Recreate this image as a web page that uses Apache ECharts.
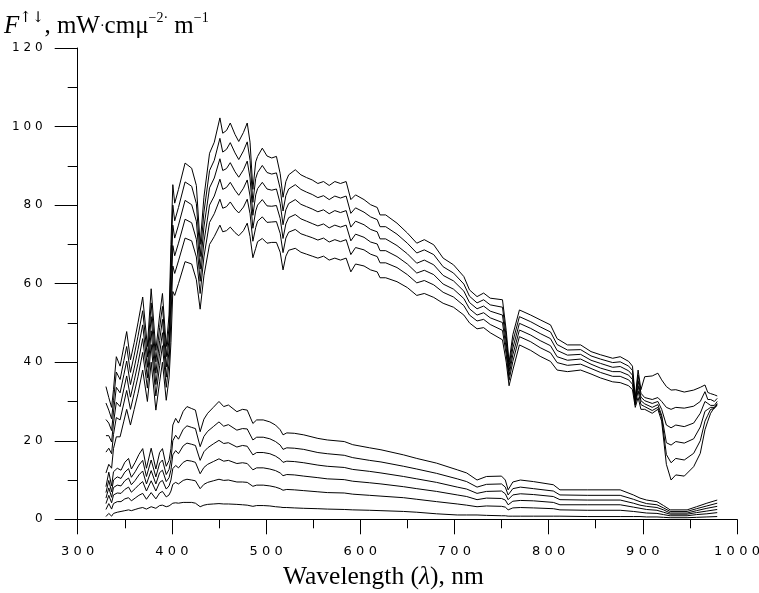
<!DOCTYPE html>
<html>
<head>
<meta charset="utf-8">
<script src="https://cdn.jsdelivr.net/npm/echarts@6.0.0/dist/echarts.min.js"></script>
<style>
html,body{margin:0;padding:0;background:#fff;}
#chart{width:759px;height:593px;}
</style>
</head>
<body>
<div id="chart"></div>
<script>
// Wavelength grid (nm) for the six upper curves
const wavelengthUpper = [330,333,336,338,341,345,349,352,356,360,364,369,374,378,383,387,390,394,397,399,401,403,407,414,421,426,430,434,440,445,451,454,458,462,467,471,476,480,483,486,489,491,496,501,506,511,515,518,521,524,531,537,543,549,555,561,567,573,579,585,590,595,604,611,618,621,627,639,650,660,668,678,688,699,710,716,724,731,738,751,755,758,762,769,781,791,802,809,820,834,845,855,868,876,885,889,892,895,898,902,910,916,920,925,930,935,944,954,961,966,969,972,976,979];

const fluxU1 = [33.8,31,28.5,33,41.4,39,44,47.8,40.6,45,50,56.6,44,58.7,43,52,57.5,44,52,70,85.2,80.5,84,90.7,89.4,85,70,82,93.2,96,102.2,98.3,99,100.9,98,96.2,98.5,100.9,96,84,91,92.4,94.5,92.5,92,92.4,88,82,86,87.7,89,87.7,87,86.4,85.5,86,85,86,85.5,86,81.4,82.6,81.4,80.1,79.4,77.5,77.5,75.4,72.9,70.3,71.2,69.9,66.5,64.8,61.8,58.4,56.7,57.6,56.3,55.9,48,40,47,53.3,52,50.8,49.5,46,44.4,44.4,42.7,41.9,41,41.4,40.2,39,31,38,33,36.3,36.5,37.2,35.5,33.8,32.9,33,32.4,32.9,33.6,34.2,32.3,32,31.7,31.4];
const fluxU2 = [29.6,27.8,25.6,30.2,37.5,35.6,40.4,44.0,37.4,41.8,46.6,53.1,41.3,55.1,40.1,48.8,54.2,41.4,49.0,65.3,80.0,76.0,79.4,85.9,84.8,80.4,66.9,78.2,88.8,91.4,97.0,93.5,94.2,95.9,93.3,91.6,93.8,96.1,91.4,80.7,86.8,88.3,90.1,88.3,87.9,88.2,84.2,78.5,82.4,84.1,85.2,84.0,83.3,82.7,81.9,82.4,81.4,82.3,81.8,82.3,77.9,79.3,78.2,77.0,76.3,74.5,74.5,72.6,70.3,67.8,68.6,67.4,64.3,62.7,59.9,56.8,55.1,55.9,54.6,54.0,46.5,38.9,45.3,51.6,50.3,49.0,47.7,44.5,43.1,43.2,41.6,40.8,39.9,40.1,39.0,37.9,30.5,36.7,32.1,31.0,30.5,31.0,30.0,28.5,28.0,28.5,28.3,28.8,30.0,32.5,30.5,30.5,30.0,30.8];
const fluxU3 = [25.4,24.5,22.6,27.3,33.6,32.2,36.8,40.3,34.3,38.5,43.2,49.5,38.7,51.6,37.2,45.5,50.9,38.8,45.9,60.5,74.9,71.6,74.9,81.2,80.1,75.9,63.7,74.4,84.4,86.9,91.8,88.8,89.3,90.8,88.5,87.1,89.0,91.2,86.9,77.4,82.6,84.2,85.8,84.1,83.8,84.1,80.4,75.0,78.8,80.4,81.4,80.2,79.6,79.0,78.3,78.8,77.8,78.6,78.1,78.6,74.4,75.9,75.0,73.8,73.2,71.4,71.4,69.7,67.6,65.2,66.0,64.8,62.1,60.7,58.1,55.2,53.6,54.3,53.0,52.0,45.0,37.7,43.6,49.9,48.6,47.3,46.0,43.0,41.8,42.0,40.5,39.7,38.7,38.9,37.8,36.7,30.1,35.3,31.1,30.2,29.5,30.0,28.0,24.0,23.3,24.0,23.6,24.5,27.0,30.0,29.5,29.0,29.0,30.0];
const fluxU4 = [21.3,21.3,19.7,24.5,29.8,28.7,33.2,36.5,31.1,35.3,39.7,46.0,36.0,48.0,34.3,42.3,47.5,36.2,42.9,55.8,69.7,67.1,70.3,76.4,75.5,71.3,60.6,70.6,80.0,82.3,86.6,84.0,84.5,85.8,83.8,82.5,84.3,86.4,82.3,74.1,78.5,80.0,81.4,79.8,79.7,79.9,76.6,71.5,75.2,76.8,77.6,76.5,75.9,75.3,74.7,75.2,74.2,74.9,74.4,74.9,70.9,72.6,71.8,70.6,70.1,68.4,68.4,66.9,65.0,62.7,63.4,62.3,59.9,58.6,56.2,53.6,52.0,52.6,51.3,50.1,43.4,36.6,41.9,48.2,46.9,45.5,44.2,41.4,40.5,40.8,39.5,38.5,37.6,37.6,36.7,35.6,29.6,34.0,30.2,29.4,28.5,29.2,26.5,19.5,18.9,19.8,19.4,20.5,23.5,27.5,28.0,28.5,28.5,29.5];
const fluxU5 = [17.1,18.1,16.7,21.6,25.9,25.3,29.6,32.8,28.0,32.1,36.3,42.5,33.4,44.5,31.4,39.1,44.2,33.6,39.8,51.0,64.5,62.6,65.8,71.6,70.9,66.8,57.5,66.8,75.6,77.8,81.5,79.2,79.6,80.8,79.0,78.0,79.5,81.5,77.8,70.8,74.3,75.9,77.0,75.6,75.7,75.8,72.8,67.9,71.6,73.1,73.8,72.7,72.2,71.7,71.1,71.6,70.6,71.2,70.7,71.2,67.4,69.2,68.6,67.5,66.9,65.3,65.3,64.1,62.3,60.2,60.8,59.7,57.8,56.6,54.4,52.0,50.5,50.9,49.6,48.1,41.9,35.4,40.2,46.5,45.2,43.7,42.4,39.9,39.2,39.5,38.4,37.4,36.4,36.4,35.5,34.4,29.1,32.7,29.2,28.7,27.7,28.5,26.0,16.5,14.4,15.5,15.1,16.8,20.0,25.0,26.5,28.0,28.2,29.2];
const fluxU6 = [11.8,14,13,18,21,21,25,28,24,28,32,38,30,40,27.8,35,40,30.3,36,45,58,57,60,65.6,65,61,53.5,62,70,72,74.9,73.2,73.5,74.4,73,72.2,73.5,75.4,72,66.6,69,70.7,71.5,70.3,70.5,70.5,68,63.5,67,68.5,69,68,67.5,67,66.5,67,66,66.5,66,66.5,63,65,64.5,63.5,63,61.5,61.5,60.5,59,57,57.5,56.5,55,54,52,50,48.5,48.8,47.5,45.7,40,34,38,44.4,43,41.5,40.2,38,37.6,38,37,36,35,34.8,34,33,28.5,31,28,28,27,28,25,14,10,11.3,11,13.4,16.8,22.8,25,27,28.5,29];

// Wavelength grid (nm) for the six lower curves
const wavelengthLower = [330,333,336,338,342,346,350,354,357,361,365,369,373,378,383,387,390,394,397,399,401,404,407,412,416,421,425,430,434,438,444,450,455,460,469,475,480,486,490,497,504,510,515,518,522,530,540,555,565,583,592,610,622,646,660,681,703,713,724,734,750,754,757,762,770,784,805,812,841,876,890,897,904,915,922,929,947,957,968,979];

const fluxL1 = [8.3,12,8.5,12.1,13,12.5,14.5,15.5,12.8,14.5,16.5,18,13,18.1,12.8,17,18,13.5,15,18,24,25.7,24.5,27.5,28.7,28.2,27.8,22.3,25.5,27,28.5,30,28.7,29.1,27.4,28,27.8,24.4,25.3,25.3,24.8,24,22.8,21.5,22,21.9,21.5,20.6,20.2,19.8,19,18.2,17.7,16.4,15.5,14.3,12.6,11.8,10,10.9,11,10,7.5,9.5,10,9.6,8.8,7.5,7.5,7.5,6.2,5.4,4.9,4.5,3.5,2.4,2.4,3.2,4.1,4.9];
const fluxL2 = [6.8,9.9,7.0,10.0,10.8,10.4,12.0,12.9,10.7,12.1,13.8,15.0,10.9,15.1,10.8,14.3,15.1,11.4,12.7,15.2,20.0,21.4,20.4,22.9,23.8,23.4,23.1,18.5,21.1,22.4,23.6,24.8,23.7,24.1,22.7,23.1,23.0,20.2,20.9,20.9,20.5,19.8,18.9,17.8,18.2,18.1,17.8,17.0,16.7,16.3,15.7,15.0,14.6,13.5,12.8,11.7,10.3,9.6,8.2,8.9,9.0,8.2,6.2,7.8,8.2,7.8,7.2,6.2,6.1,6.1,5.1,4.5,4.0,3.7,2.9,2.0,2.0,2.7,3.4,4.1];
const fluxL3 = [5.4,8.0,5.6,8.1,8.7,8.5,9.8,10.5,8.8,9.9,11.3,12.3,9.0,12.4,9.0,11.9,12.5,9.6,10.6,12.6,16.4,17.5,16.7,18.7,19.4,19.1,18.8,15.0,17.2,18.2,19.2,20.1,19.3,19.5,18.4,18.8,18.6,16.4,17.0,17.0,16.7,16.1,15.3,14.5,14.8,14.7,14.4,13.8,13.5,13.2,12.7,12.2,11.8,10.9,10.3,9.4,8.2,7.7,6.6,7.1,7.2,6.5,5.0,6.2,6.5,6.3,5.8,5.0,4.9,4.9,4.1,3.6,3.3,3.0,2.4,1.6,1.6,2.2,2.8,3.3];
const fluxL4 = [4.0,6.1,4.2,6.2,6.7,6.6,7.6,8.2,6.9,7.8,8.8,9.6,7.2,9.8,7.2,9.4,9.9,7.7,8.5,10.0,12.9,13.7,13.1,14.5,15.0,14.8,14.5,11.6,13.2,14.0,14.7,15.4,14.8,15.0,14.2,14.4,14.2,12.6,13.1,13.1,12.8,12.4,11.8,11.1,11.4,11.3,11.0,10.6,10.3,10.1,9.7,9.3,9.0,8.3,7.8,7.1,6.2,5.8,5.0,5.4,5.3,4.9,3.7,4.6,4.8,4.7,4.3,3.7,3.7,3.7,3.1,2.8,2.5,2.3,1.8,1.3,1.3,1.7,2.1,2.5];
const fluxL5 = [2.5,4.0,2.6,4.0,4.5,4.5,5.2,5.5,4.7,5.4,6.1,6.6,5.1,6.8,5.2,6.7,7.1,5.7,6.2,7.2,8.9,9.4,9.0,9.9,10.2,10.0,9.8,7.8,8.9,9.4,9.8,10.2,9.9,10.0,9.5,9.5,9.4,8.4,8.7,8.7,8.5,8.2,7.8,7.4,7.6,7.5,7.3,7.0,6.8,6.7,6.4,6.1,5.9,5.5,5.1,4.5,3.9,3.6,3.2,3.4,3.3,3.1,2.4,2.9,3.0,2.9,2.7,2.4,2.3,2.3,2.0,1.8,1.6,1.5,1.2,0.9,0.9,1.2,1.4,1.7];
const fluxL6 = [0.7,1.5,0.8,1.5,1.8,2,2.2,2.4,2.2,2.5,2.8,3,2.6,3.2,2.8,3.5,3.6,3.2,3.4,3.8,4.1,4.2,4.1,4.3,4.3,4.3,4.1,3.2,3.6,3.8,3.9,4,3.9,3.9,3.8,3.7,3.6,3.3,3.5,3.5,3.4,3.2,3.1,3,3,2.9,2.8,2.7,2.6,2.5,2.4,2.3,2.2,2,1.8,1.4,1.1,1.1,1.1,1.0,0.9,0.9,0.8,0.8,0.8,0.8,0.8,0.8,0.7,0.7,0.7,0.7,0.6,0.6,0.5,0.4,0.4,0.5,0.6,0.7];

const xRange = [300, 1000];
const yRange = [0, 120];

const spaced = v => String(v).split('').join('\u2004');

function mk(xs, ys) {
  return {
    type: 'line',
    data: xs.map((x, i) => [x, ys[i]]),
    showSymbol: false,
    symbol: 'none',
    silent: true,
    lineStyle: { color: '#000', width: 1 },
    emphasis: { disabled: true }
  };
}

const series = [fluxU1, fluxU2, fluxU3, fluxU4, fluxU5, fluxU6].map(s => mk(wavelengthUpper, s))
  .concat([fluxL1, fluxL2, fluxL3, fluxL4, fluxL5, fluxL6].map(s => mk(wavelengthLower, s)));

const serif = 'Liberation Serif';
const base = { fontFamily: serif, fontWeight: 'normal', color: '#000' };
const chart = echarts.init(document.getElementById('chart'), null, { renderer: 'canvas' });
chart.setOption({
  animation: false,
  backgroundColor: '#fff',
  title: [
    {
      left: 4, top: 11, padding: 0,
      text: '{it|F}{ar|↑↓}{n|, mW}{dot|·}{n|cmμ}{sup|−2·}{n| m}{sup|−1}',
      textStyle: {
        fontWeight: 'normal',
        rich: {
          it: Object.assign({}, base, { fontStyle: 'italic', fontSize: 25, lineHeight: 30 }),
          n: Object.assign({}, base, { fontSize: 25, lineHeight: 30 }),
          ar: Object.assign({}, base, { fontFamily: 'DejaVu Serif', fontSize: 15, lineHeight: 10, verticalAlign: 'top' }),
          sup: Object.assign({}, base, { fontSize: 14, lineHeight: 20, verticalAlign: 'top' }),
          dot: Object.assign({}, base, { fontSize: 14, lineHeight: 30 })
        }
      }
    },
    {
      left: 283, top: 562, padding: 0,
      text: '{n|Wavelength (}{it|λ}{n|), nm}',
      textStyle: {
        fontWeight: 'normal',
        rich: {
          n: Object.assign({}, base, { fontSize: 25.5, lineHeight: 30 }),
          it: Object.assign({}, base, { fontStyle: 'italic', fontSize: 25.5, lineHeight: 30 })
        }
      }
    }
  ],
  grid: { left: 77.7, right: 22, top: 48, bottom: 73.7, outerBoundsMode: 'none', containLabel: false },
  xAxis: {
    type: 'value', min: xRange[0], max: xRange[1], interval: 100,
    axisLine: { show: true, onZero: false, lineStyle: { color: '#000', width: 1 } },
    axisTick: { show: true, length: 15, inside: false, lineStyle: { color: '#000', width: 1 } },
    minorTick: { show: true, splitNumber: 2, length: 9, lineStyle: { color: '#000', width: 1 } },
    splitLine: { show: false },
    minorSplitLine: { show: false },
    axisLabel: { margin: 26, color: '#000', fontFamily: 'DejaVu Sans', fontSize: 13, formatter: spaced }
  },
  yAxis: {
    type: 'value', min: yRange[0], max: yRange[1], interval: 20,
    axisLine: { show: true, onZero: false, lineStyle: { color: '#000', width: 1 } },
    axisTick: { show: true, length: 23, inside: false, lineStyle: { color: '#000', width: 1 } },
    minorTick: { show: true, splitNumber: 2, length: 10, lineStyle: { color: '#000', width: 1 } },
    splitLine: { show: false },
    minorSplitLine: { show: false },
    axisLabel: { margin: 35, color: '#000', fontFamily: 'DejaVu Sans', fontSize: 12, formatter: spaced }
  },
  series: series
});
</script>
</body>
</html>
